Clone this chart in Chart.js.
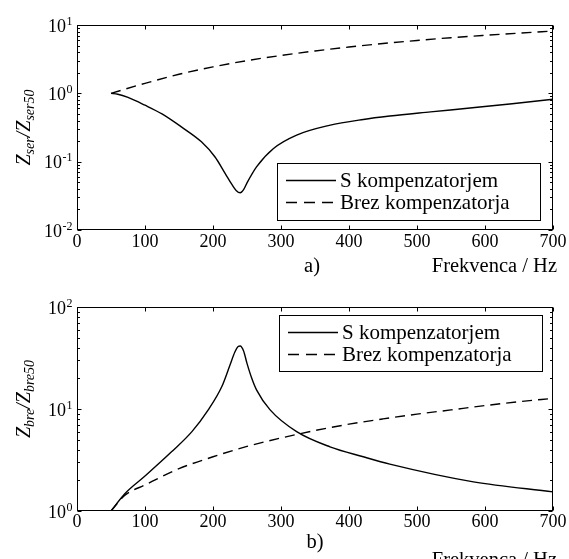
<!DOCTYPE html>
<html>
<head>
<meta charset="utf-8">
<script src="https://cdn.jsdelivr.net/npm/chart.js@4/dist/chart.umd.min.js"></script>
<style>
html,body{margin:0;padding:0;background:#fff;}
#wrap{position:relative;width:569px;height:559px;overflow:hidden;background:#fff;}
canvas{position:absolute;left:0;}
#c1{top:0;}
#c2{top:280px;}
</style>
</head>
<body>
<div id="wrap">
<canvas id="c1" width="569" height="280"></canvas>
<canvas id="c2" width="569" height="279"></canvas>
</div>
<script>
// ---- data ----
const xTicks = [0, 100, 200, 300, 400, 500, 600, 700];

// a) series impedance
const serFreqS = [50, 60, 75, 100, 125, 154, 183, 203, 218, 228, 234, 240, 245, 250, 264, 289, 323, 371, 421, 460, 520, 578, 640, 700];
const serValS  = [1.0, 0.97, 0.87, 0.67, 0.50, 0.32, 0.195, 0.117, 0.067, 0.046, 0.038, 0.035, 0.039, 0.049, 0.084, 0.156, 0.245, 0.34, 0.415, 0.465, 0.535, 0.61, 0.705, 0.82];
const serFreqB = [50, 100, 150, 200, 250, 300, 350, 400, 450, 500, 550, 600, 650, 700];
const serValB  = [1.0, 1.40, 1.90, 2.44, 3.01, 3.58, 4.17, 4.76, 5.36, 5.94, 6.52, 7.06, 7.60, 8.15];
const serDecades = [-2, -1, 0, 1];

// b) parallel impedance
const breFreqS = [50, 70, 100, 139, 169, 193, 213, 225, 232, 237, 240, 245, 250, 257, 264, 284, 323, 372, 421, 460, 583, 700];
const breValS  = [1.0, 1.47, 2.2, 3.8, 6.0, 9.8, 16.6, 27, 36, 41, 41.5, 37, 28, 20, 15.4, 9.8, 6.0, 4.26, 3.4, 2.88, 1.93, 1.54];
const breFreqB = [50, 70, 100, 150, 200, 250, 300, 350, 400, 450, 500, 550, 600, 650, 700];
const breValB  = [1.0, 1.42, 1.8, 2.6, 3.4, 4.3, 5.2, 6.15, 7.1, 8.0, 8.9, 9.8, 10.8, 11.8, 12.7];
const breDecades = [0, 1, 2];

const legendLabels = ['S kompenzatorjem', 'Brez kompenzatorja'];
const xTitle = 'Frekvenca / Hz';

// ---- helpers ----
const SERIF = '"Liberation Serif", "Times New Roman", serif';
const DASH = [10, 6];
const LEGEND_DASH = [11, 7];
function pts(xs, ys) { return xs.map((x, i) => ({ x: x, y: ys[i] })); }

function decoPlugin(o) {
  return {
    id: 'deco',
    afterDraw(chart) {
      const ctx = chart.ctx;
      const a = chart.chartArea;
      const xs = chart.scales.x, ys = chart.scales.y;
      ctx.save();
      ctx.strokeStyle = '#000';
      ctx.fillStyle = '#000';
      ctx.lineWidth = 1;
      ctx.setLineDash([]);
      // frame
      const L = Math.round(a.left) + 0.5, R = Math.round(a.right) - 0.5;
      const T = Math.round(a.top) + 0.5, B = Math.round(a.bottom) - 0.5;
      ctx.strokeRect(L, T, R - L, B - T);
      // x ticks (inward, top and bottom)
      ctx.beginPath();
      xTicks.forEach(v => {
        const px = Math.round(xs.getPixelForValue(v)) + 0.5;
        ctx.moveTo(px, B); ctx.lineTo(px, B - 4);
        ctx.moveTo(px, T); ctx.lineTo(px, T + 4);
      });
      // y ticks (major + minor log)
      const dec = o.decades;
      for (let i = 0; i < dec.length; i++) {
        const base = Math.pow(10, dec[i]);
        const py = Math.round(ys.getPixelForValue(base)) + 0.5;
        ctx.moveTo(L, py); ctx.lineTo(L + 4, py);
        ctx.moveTo(R, py); ctx.lineTo(R - 4, py);
        if (i < dec.length - 1) {
          for (let m = 2; m <= 9; m++) {
            const my = Math.round(ys.getPixelForValue(base * m)) + 0.5;
            ctx.moveTo(L, my); ctx.lineTo(L + 2.5, my);
            ctx.moveTo(R, my); ctx.lineTo(R - 2.5, my);
          }
        }
      }
      ctx.stroke();
      // y tick labels 10^k
      ctx.textBaseline = 'alphabetic';
      dec.forEach(k => {
        const py = ys.getPixelForValue(Math.pow(10, k));
        const exp = String(k);
        ctx.font = '12px ' + SERIF;
        const ew = ctx.measureText(exp).width;
        ctx.textAlign = 'left';
        const expX = 72.5 - ew;
        ctx.fillText(exp, expX, py - 0.5);
        ctx.font = '18px ' + SERIF;
        ctx.textAlign = 'right';
        ctx.fillText('10', expX - 0.5, py + 6.5);
      });
      // y title with subscripts, rotated
      const parts = o.yTitle;
      ctx.save();
      ctx.translate(30, o.yTitleCenter);
      ctx.rotate(-Math.PI / 2);
      let total = 0;
      parts.forEach(p => {
        ctx.font = 'italic ' + (p.sub ? 14 : 20) + 'px ' + SERIF;
        total += ctx.measureText(p.t).width;
      });
      let cx = -total / 2;
      ctx.textAlign = 'left';
      parts.forEach(p => {
        ctx.font = 'italic ' + (p.sub ? 14 : 20) + 'px ' + SERIF;
        ctx.fillText(p.t, cx, p.sub ? 4 : 0);
        cx += ctx.measureText(p.t).width;
      });
      ctx.restore();
      // legend
      const lg = o.legend;
      ctx.lineWidth = 1;
      ctx.strokeRect(Math.round(lg.x) + 0.5, Math.round(lg.y) + 0.5, lg.w, lg.h);
      ctx.font = '21px ' + SERIF;
      ctx.textAlign = 'left';
      ctx.textBaseline = 'middle';
      chart.data.datasets.forEach((ds, i) => {
        const ly = lg.y + lg.row0 + i * lg.rowH;
        ctx.lineWidth = 1.4;
        ctx.setLineDash(ds.borderDash ? LEGEND_DASH : []);
        ctx.beginPath();
        ctx.moveTo(lg.x + 9, Math.round(ly) + 0.5);
        ctx.lineTo(lg.x + (ds.borderDash ? 56 : 59), Math.round(ly) + 0.5);
        ctx.stroke();
        ctx.setLineDash([]);
        ctx.fillText(ds.label, lg.x + 63, ly + 1);
      });
      // panel label and x title
      ctx.font = '20.5px ' + SERIF;
      ctx.textAlign = 'center';
      ctx.fillText(o.panel, o.panelX, o.panelY);
      ctx.textAlign = 'right';
      ctx.fillText(xTitle, 557, o.xTitleY);
      ctx.restore();
    }
  };
}

function makeChart(id, cfg) {
  return new Chart(document.getElementById(id), {
    type: 'line',
    data: {
      datasets: [
        { label: legendLabels[0], data: cfg.solid, borderColor: '#000', borderWidth: 1.4, pointRadius: 0, fill: false, cubicInterpolationMode: 'monotone' },
        { label: legendLabels[1], data: cfg.dashed, borderColor: '#000', borderWidth: 1.4, borderDash: DASH, pointRadius: 0, fill: false, cubicInterpolationMode: 'monotone' }
      ]
    },
    options: {
      responsive: false,
      animation: false,
      events: [],
      layout: { padding: { left: 0, right: 16, top: cfg.top, bottom: 0 } },
      plugins: { legend: { display: false }, tooltip: { enabled: false }, title: { display: false } },
      scales: {
        x: {
          type: 'linear', min: 0, max: 700,
          afterBuildTicks: s => { s.ticks = xTicks.map(v => ({ value: v })); },
          ticks: { color: '#000', font: { family: SERIF, size: 18 }, padding: cfg.tickPad, maxRotation: 0, autoSkip: false },
          grid: { display: false, drawTicks: false },
          border: { display: false },
          afterFit: s => { s.height = cfg.xh; }
        },
        y: {
          type: 'logarithmic', min: cfg.ymin, max: cfg.ymax,
          ticks: { display: false },
          grid: { display: false, drawTicks: false },
          border: { display: false },
          afterFit: s => { s.width = 77; }
        }
      }
    },
    plugins: [decoPlugin(cfg.deco)]
  });
}

makeChart('c1', {
  solid: pts(serFreqS, serValS), dashed: pts(serFreqB, serValB),
  top: 25, xh: 50, tickPad: 1, ymin: 0.01, ymax: 10,
  deco: {
    decades: serDecades,
    yTitle: [{ t: 'Z' }, { t: 'ser', sub: true }, { t: '/' }, { t: 'Z' }, { t: 'ser50', sub: true }],
    yTitleCenter: 127.5,
    legend: { x: 277, y: 163, w: 263, h: 57, row0: 17, rowH: 22 },
    panel: 'a)', panelX: 312, panelY: 267, xTitleY: 267
  }
});

makeChart('c2', {
  solid: pts(breFreqS, breValS), dashed: pts(breFreqB, breValB),
  top: 27, xh: 48, tickPad: 0, ymin: 1, ymax: 100,
  deco: {
    decades: breDecades,
    yTitle: [{ t: 'Z' }, { t: 'bre', sub: true }, { t: '/' }, { t: 'Z' }, { t: 'bre50', sub: true }],
    yTitleCenter: 119,
    legend: { x: 279, y: 35, w: 263, h: 56, row0: 17, rowH: 22 },
    panel: 'b)', panelX: 315, panelY: 263, xTitleY: 281
  }
});
</script>
</body>
</html>
